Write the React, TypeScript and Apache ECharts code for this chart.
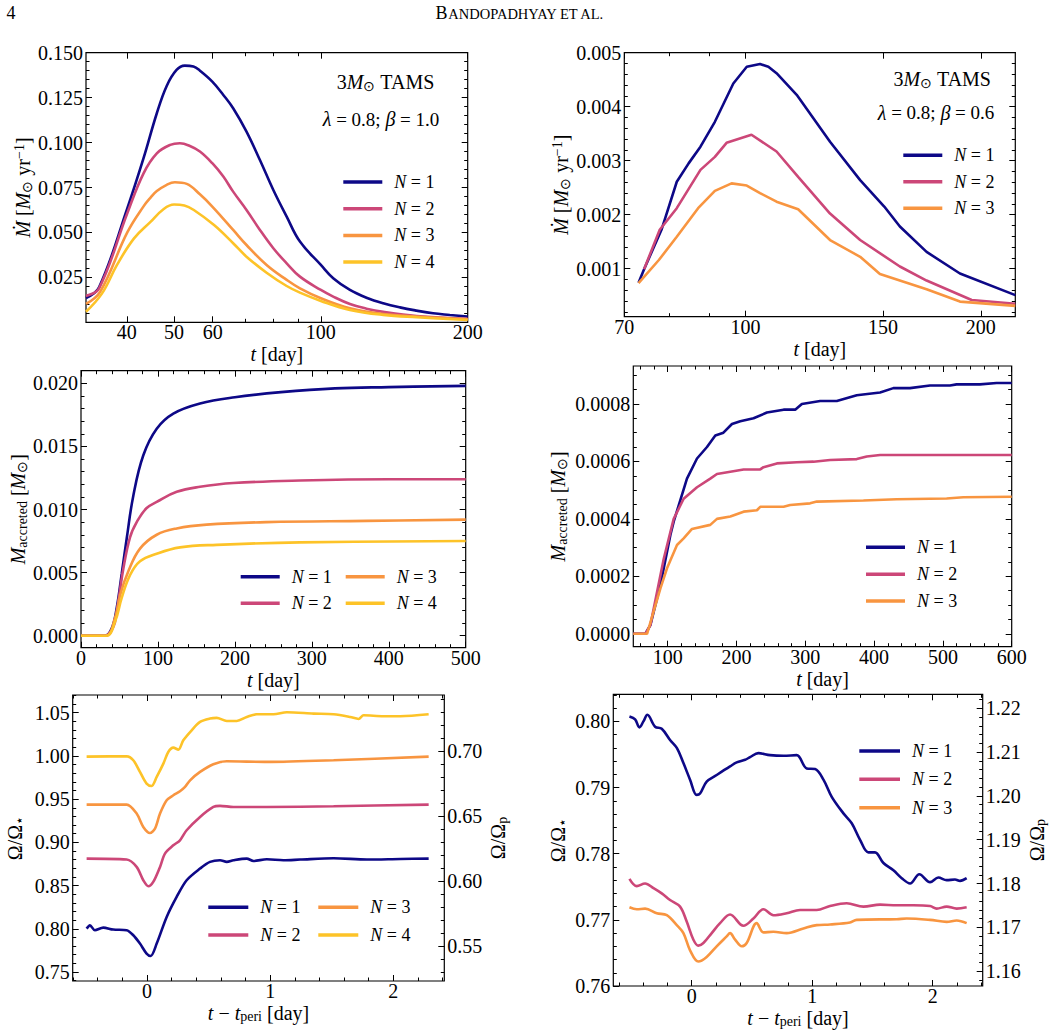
import React, { useEffect, useRef } from 'react';
import * as echarts from 'echarts';

const FONT = 'Liberation Serif';
const NAMES = ['N=1', 'N=2', 'N=3', 'N=4'];
const COLORS = ['#0d0887', '#cc4778', '#f89540', '#fdc328'];

// ---------- Panel A (top-left): Mdot vs t, log t ----------
const A_X_LABELS = [40, 50, 60, 100, 200];
const A_X_MINOR = [70, 80, 90];
const A_Y_LABELS = [0.025, 0.05, 0.075, 0.1, 0.125, 0.15];
const A_T1 = [33, 35.1, 40.1, 43.3, 46.1, 48.3, 50.6, 52.6, 54.8, 56.5, 59.9, 63.1, 66.1, 70.4, 75.0, 79.9, 85.1, 90.6, 100, 106, 114.7, 124, 134.2, 145.2, 157.1, 169.9, 183.8, 200];
const A_V1 = [0.0135, 0.0195, 0.0634, 0.0913, 0.1163, 0.1315, 0.1404, 0.1428, 0.1423, 0.140, 0.1339, 0.1265, 0.1191, 0.1061, 0.0903, 0.0736, 0.0588, 0.0449, 0.0319, 0.0245, 0.018, 0.0137, 0.0106, 0.0083, 0.0065, 0.005, 0.0041, 0.0032];
const A_T2 = [33, 35.1, 40.1, 43.3, 46.1, 49.1, 51.4, 53.9, 56.5, 59.9, 63.1, 66.1, 70.4, 75.0, 79.9, 85.1, 90.6, 100, 106, 114.7, 124, 134.2, 157.1, 200];
const A_V2 = [0.0147, 0.0189, 0.0607, 0.0829, 0.094, 0.0987, 0.0996, 0.0981, 0.095, 0.0885, 0.0811, 0.0727, 0.0625, 0.0514, 0.0412, 0.0328, 0.0254, 0.018, 0.0143, 0.0102, 0.0076, 0.0058, 0.0035, 0.0019];
const A_T3 = [33, 35.3, 40.1, 43.3, 44.8, 46.1, 48.3, 50.2, 53.1, 56.5, 59.9, 66.1, 70.4, 77.4, 85.1, 90.6, 100, 114.7, 134.2, 157.1, 200];
const A_V3 = [0.0102, 0.0171, 0.05, 0.0645, 0.0695, 0.073, 0.0765, 0.0779, 0.077, 0.0712, 0.0644, 0.0514, 0.043, 0.0319, 0.0236, 0.0189, 0.0134, 0.0078, 0.0046, 0.0032, 0.0017];
const A_T4 = [33, 35.6, 38.2, 41.4, 44.8, 47.5, 50.0, 52.5, 54.9, 60.4, 66.1, 70.4, 77.4, 85.1, 90.6, 100, 114.7, 134.2, 157.1, 200];
const A_V4 = [0.0059, 0.0161, 0.0319, 0.0467, 0.056, 0.0628, 0.0655, 0.065, 0.0625, 0.0541, 0.044, 0.0365, 0.0276, 0.0202, 0.0165, 0.0119, 0.0069, 0.0041, 0.0028, 0.0013];

// ---------- Panel B (top-right) ----------
const B_X_LABELS = [70, 100, 150, 200];
const B_X_MINOR = [80, 90];
const B_Y_LABELS = [0.001, 0.002, 0.003, 0.004, 0.005];
const B_T1 = [73.0, 74.2, 78.1, 81.7, 84.6, 87.6, 91.4, 96.5, 100.4, 104.4, 107.0, 109.6, 116.3, 128.3, 140.2, 150.5, 157.6, 170.5, 188.1, 221.4];
const B_V1 = [0.00074, 0.00099, 0.00172, 0.00261, 0.00295, 0.00326, 0.00372, 0.00443, 0.00474, 0.00479, 0.00474, 0.00462, 0.00422, 0.00335, 0.00264, 0.00215, 0.00178, 0.00131, 0.00091, 0.00051];
const B_T2 = [74.2, 77.7, 81.7, 87.6, 91.4, 94.6, 101.8, 109.6, 116.8, 128.3, 140.2, 157.6, 170.5, 194.7, 221.4];
const B_V2 = [0.00099, 0.00172, 0.00212, 0.00283, 0.00307, 0.00333, 0.00348, 0.00317, 0.0027, 0.00202, 0.00153, 0.00104, 0.00078, 0.00042, 0.00035];
const B_T3 = [73.0, 77.5, 81.7, 87.0, 91.4, 96.0, 100.4, 104.4, 109.6, 116.8, 128.3, 140.2, 148.6, 170.5, 188.1, 221.4];
const B_V3 = [0.00073, 0.00116, 0.00159, 0.00212, 0.00244, 0.00258, 0.00254, 0.0024, 0.00224, 0.0021, 0.00153, 0.00122, 0.0009, 0.00062, 0.00039, 0.00031];

// ---------- Panel C (middle-left) ----------
const C_X_LABELS = [0, 100, 200, 300, 400, 500];
const C_Y_LABELS = [0, 0.005, 0.01, 0.015, 0.02];
const C_T1 = [0, 31, 40, 46.4, 52.9, 59.4, 68, 81, 98.4, 120, 154.7, 200, 260, 330, 400, 500];
const C_V1 = [0, 0, 0.0006, 0.0022, 0.0049, 0.0077, 0.0111, 0.0143, 0.0164, 0.0176, 0.0184, 0.0189, 0.0193, 0.0196, 0.0197, 0.0198];
const C_T2 = [0, 31, 42, 46.4, 55, 63.7, 72.4, 85, 98.4, 124.4, 154.7, 198, 284.7, 400, 500];
const C_V2 = [0, 0, 0.0007, 0.0019, 0.0053, 0.0078, 0.009, 0.0101, 0.0106, 0.0114, 0.0118, 0.0121, 0.0123, 0.0124, 0.0124];
const C_T3 = [0, 32, 44.2, 50.7, 61.5, 76.7, 98.4, 124.4, 163.3, 241.3, 371.3, 500];
const C_V3 = [0, 0, 0.0014, 0.0032, 0.0051, 0.0069, 0.008, 0.0085, 0.0088, 0.009, 0.0091, 0.0092];
const C_T4 = [0, 33, 44.2, 52.9, 63.7, 76.7, 98.4, 128.7, 176.3, 284.7, 500];
const C_V4 = [0, 0, 0.0011, 0.003, 0.0048, 0.0059, 0.0065, 0.007, 0.0072, 0.0074, 0.0075];

// ---------- Panel D (middle-right) ----------
const D_X_LABELS = [100, 200, 300, 400, 500, 600];
const D_Y_LABELS = [0, 0.0002, 0.0004, 0.0006, 0.0008];
const D_T1 = [50, 67.6, 74.8, 89.4, 103.9, 108.7, 128, 142.6, 157.1, 169.2, 181, 193.4, 205.5, 224.8, 244.2, 268.4, 285.3, 295, 321.6, 345.8, 374.8, 408.7, 428, 452.2, 481.2, 510.3, 519.9, 553.8, 578, 600];
const D_V1 = [0, 0, 0.00003, 0.00017, 0.000344, 0.00039, 0.00054, 0.00061, 0.00065, 0.00069, 0.0007, 0.00073, 0.00074, 0.00075, 0.00077, 0.00078, 0.00078, 0.0008, 0.00081, 0.00081, 0.00083, 0.00084, 0.000855, 0.000855, 0.000864, 0.000864, 0.000868, 0.000868, 0.000873, 0.000873];
const D_T2 = [50, 67.6, 74.8, 94.2, 108.7, 123.2, 142.6, 161.9, 171.6, 191, 210.3, 234.5, 239.3, 258.7, 287.7, 311.9, 336.1, 374.8, 389.3, 408.7, 600];
const D_V2 = [0, 0, 0.00003, 0.00026, 0.0004, 0.00047, 0.00051, 0.00054, 0.000556, 0.000564, 0.000572, 0.000572, 0.00058, 0.000593, 0.000597, 0.000599, 0.000605, 0.000608, 0.000617, 0.000622, 0.000622];
const D_T3 = [50, 70, 89.4, 99, 113.5, 123.2, 135.3, 161.9, 171.6, 191, 210.3, 229.7, 234.5, 268.4, 278, 307, 316.7, 384.5, 432.8, 505.4, 529.6, 600];
const D_V3 = [0, 0, 0.000158, 0.000228, 0.000309, 0.000332, 0.000365, 0.000379, 0.0004, 0.000408, 0.000425, 0.00043, 0.000442, 0.000442, 0.000448, 0.000454, 0.00046, 0.000464, 0.000468, 0.000471, 0.000475, 0.000477];

// ---------- Panel E (bottom-left) ----------
const E_X_LABELS = [0, 1, 2];
const E_Y_LABELS = [0.75, 0.8, 0.85, 0.9, 0.95, 1.0, 1.05];
const E_Y2_LABELS = [0.55, 0.6, 0.65, 0.7];
const E_T1 = [-0.49, -0.463, -0.423, -0.355, -0.274, -0.165, -0.111, -0.057, -0.003, 0.03, 0.079, 0.16, 0.241, 0.322, 0.431, 0.512, 0.593, 0.648, 0.702, 0.81, 0.864, 0.973, 1.108, 1.244, 1.515, 1.786, 2.057, 2.287];
const E_V1 = [0.8002, 0.804, 0.7983, 0.8014, 0.7991, 0.7983, 0.7925, 0.7829, 0.7713, 0.7686, 0.7829, 0.8137, 0.8369, 0.8562, 0.8697, 0.8774, 0.8793, 0.8774, 0.8793, 0.8812, 0.8785, 0.8804, 0.8793, 0.8801, 0.8816, 0.8801, 0.8808, 0.8812];
const E_T2 = [-0.49, -0.165, -0.084, -0.03, 0.011, 0.051, 0.106, 0.146, 0.214, 0.268, 0.322, 0.431, 0.539, 0.593, 0.702, 0.973, 1.515, 2.287];
const E_V2 = [0.8812, 0.8801, 0.8716, 0.8562, 0.8492, 0.8542, 0.8716, 0.887, 0.8966, 0.9024, 0.914, 0.9294, 0.941, 0.9422, 0.941, 0.941, 0.9418, 0.9437];
const E_T3 = [-0.49, -0.165, -0.084, -0.03, 0.024, 0.065, 0.106, 0.16, 0.214, 0.268, 0.309, 0.35, 0.431, 0.539, 0.648, 0.973, 1.515, 2.287];
const E_V3 = [0.9437, 0.9437, 0.9333, 0.9179, 0.9109, 0.9159, 0.9333, 0.9487, 0.9545, 0.9591, 0.9641, 0.9718, 0.9815, 0.9904, 0.9938, 0.9931, 0.995, 0.9992];
const E_T4 = [-0.49, -0.165, -0.111, -0.057, -0.003, 0.038, 0.079, 0.133, 0.173, 0.214, 0.255, 0.295, 0.363, 0.431, 0.512, 0.566, 0.648, 0.729, 0.81, 0.892, 1.027, 1.136, 1.352, 1.515, 1.65, 1.718, 1.759, 1.921, 2.057, 2.287];
const E_V4 = [0.9992, 0.9996, 0.995, 0.9815, 0.968, 0.9653, 0.9757, 0.9911, 1.0046, 1.0096, 1.0073, 1.0181, 1.0297, 1.0393, 1.0432, 1.044, 1.0405, 1.0405, 1.0451, 1.0482, 1.0482, 1.0505, 1.049, 1.0482, 1.0451, 1.0428, 1.047, 1.0459, 1.0459, 1.0482];

// ---------- Panel F (bottom-right) ----------
const F_X_LABELS = [0, 1, 2];
const F_Y_LABELS = [0.76, 0.77, 0.78, 0.79, 0.8];
const F_Y2_LABELS = [1.16, 1.17, 1.18, 1.19, 1.2, 1.21, 1.22];
const F_T1 = [-0.517, -0.47, -0.434, -0.401, -0.368, -0.304, -0.249, -0.18, -0.124, -0.069, -0.014, 0.041, 0.069, 0.124, 0.207, 0.318, 0.373, 0.443, 0.484, 0.553, 0.65, 0.761, 0.871, 0.954, 1.024, 1.093, 1.162, 1.259, 1.328, 1.397, 1.466, 1.521, 1.591, 1.674, 1.743, 1.812, 1.889, 1.978, 2.047, 2.116, 2.185, 2.227, 2.282];
const F_V1 = [0.80075, 0.8003, 0.7991, 0.8, 0.801, 0.7992, 0.7989, 0.7972, 0.796, 0.7937, 0.7912, 0.7889, 0.7891, 0.7909, 0.7919, 0.7932, 0.7938, 0.7942, 0.7946, 0.7952, 0.7949, 0.7948, 0.7949, 0.7929, 0.7928, 0.7912, 0.7886, 0.7861, 0.7846, 0.7821, 0.7802, 0.7802, 0.7786, 0.7775, 0.7763, 0.7755, 0.7769, 0.7757, 0.7764, 0.776, 0.7761, 0.7759, 0.7763];
const F_T2 = [-0.517, -0.456, -0.387, -0.318, -0.249, -0.18, -0.097, -0.041, 0.014, 0.055, 0.097, 0.166, 0.235, 0.318, 0.429, 0.512, 0.595, 0.678, 0.788, 0.899, 1.037, 1.148, 1.286, 1.425, 1.563, 1.701, 1.839, 1.978, 2.033, 2.116, 2.199, 2.282];
const F_V2 = [0.7762, 0.7751, 0.7755, 0.7748, 0.774, 0.773, 0.772, 0.7697, 0.767, 0.7661, 0.7665, 0.768, 0.7695, 0.7708, 0.7691, 0.7702, 0.7716, 0.7707, 0.771, 0.7715, 0.7715, 0.7721, 0.7725, 0.772, 0.7723, 0.7722, 0.7722, 0.7721, 0.7717, 0.772, 0.7717, 0.7719];
const F_T3 = [-0.517, -0.456, -0.387, -0.29, -0.207, -0.124, -0.069, -0.014, 0.055, 0.124, 0.207, 0.29, 0.318, 0.36, 0.415, 0.456, 0.539, 0.595, 0.678, 0.788, 0.927, 1.037, 1.148, 1.314, 1.369, 1.701, 1.784, 1.978, 2.116, 2.199, 2.282];
const F_V3 = [0.7719, 0.7716, 0.7717, 0.771, 0.7707, 0.7692, 0.768, 0.7654, 0.7637, 0.7644, 0.766, 0.7675, 0.768, 0.767, 0.766, 0.7665, 0.7695, 0.7681, 0.7682, 0.768, 0.7687, 0.7692, 0.7693, 0.7696, 0.77, 0.7701, 0.7702, 0.77, 0.7697, 0.7699, 0.7695];

// ---------- helpers ----------
function steps(a: number, b: number, s: number): number[] {
  const out: number[] = [];
  const n = Math.round((b - a) / s);
  for (let k = 0; k <= n; k++) out.push(Number((a + k * s).toFixed(8)));
  return out;
}
const lg = (arr: number[]) => arr.map((v) => Math.log10(v));

const FS = 20;
const RICH: any = {
  i: { fontFamily: FONT, fontSize: FS, fontStyle: 'italic', color: '#000', lineHeight: 22 },
  r: { fontFamily: FONT, fontSize: FS, color: '#000', lineHeight: 22 },
  sub: { fontFamily: FONT, fontSize: 14, color: '#000', lineHeight: 10, verticalAlign: 'bottom' },
  sup: { fontFamily: FONT, fontSize: 14, color: '#000', lineHeight: 10, verticalAlign: 'top' },
};
const GRICH: any = {
  i: { fontFamily: FONT, fontSize: FS, fontStyle: 'italic', fill: '#000', lineHeight: 22 },
  sub: { fontFamily: FONT, fontSize: 14, fill: '#000', lineHeight: 10, verticalAlign: 'bottom' },
};

type AxSpec = {
  min: number; max: number; labels: number[]; major: number[]; minor: number[];
  fmt: (v: number) => string; name: string; gap: number;
};

function buildOption() {
  const xAxis: any[] = [];
  const yAxis: any[] = [];
  const series: any[] = [];

  const common = (gi: number, position: string, min: number, max: number) => ({
    type: 'value', gridIndex: gi, position, min, max, silent: true,
    splitLine: { show: false }, axisLine: { show: false, onZero: false }, axisPointer: { show: false },
  });
  const ticksOnly = (gi: number, position: string, min: number, max: number, vals: number[], len: number) => ({
    ...common(gi, position, min, max),
    axisLabel: { show: false },
    axisTick: { show: true, inside: true, length: len, customValues: vals, lineStyle: { color: '#000', width: 1 } },
  });
  const labeled = (gi: number, position: string, s: AxSpec, vertical: boolean) => ({
    ...common(gi, position, s.min, s.max),
    axisTick: { show: true, inside: true, length: 6, customValues: s.major, lineStyle: { color: '#000', width: 1 } },
    axisLabel: {
      show: true, customValues: s.labels, formatter: (v: number) => s.fmt(v), margin: vertical ? 3 : 1,
      fontFamily: FONT, fontSize: FS, color: '#000', lineHeight: 18,
    },
    name: s.name, nameLocation: 'middle', nameGap: s.gap, nameRotate: vertical ? 90 : 0,
    nameTextStyle: { fontFamily: FONT, fontSize: FS, color: '#000', lineHeight: 22, rich: RICH },
  });
  const addPanel = (gi: number, xs: AxSpec, ys: AxSpec, y2?: AxSpec) => {
    const xi = xAxis.length;
    xAxis.push(
      labeled(gi, 'bottom', xs, false),
      ticksOnly(gi, 'bottom', xs.min, xs.max, xs.minor, 3.5),
      ticksOnly(gi, 'top', xs.min, xs.max, xs.major, 6),
      ticksOnly(gi, 'top', xs.min, xs.max, xs.minor, 3.5),
    );
    const yi = yAxis.length;
    yAxis.push(labeled(gi, 'left', ys, true), ticksOnly(gi, 'left', ys.min, ys.max, ys.minor, 3.5));
    if (y2) {
      yAxis.push(labeled(gi, 'right', y2, true), ticksOnly(gi, 'right', y2.min, y2.max, y2.minor, 3.5));
    } else {
      yAxis.push(ticksOnly(gi, 'right', ys.min, ys.max, ys.major, 6), ticksOnly(gi, 'right', ys.min, ys.max, ys.minor, 3.5));
    }
    return { xi, yi };
  };
  const addLine = (k: number, ax: { xi: number; yi: number }, ts: number[], vs: number[], log: boolean, smooth: number | boolean) => {
    series.push({
      type: 'line', name: NAMES[k], xAxisIndex: ax.xi, yAxisIndex: ax.yi,
      data: ts.map((t, j) => [log ? Math.log10(t) : t, vs[j]]),
      showSymbol: false, symbol: 'none', smooth,
      color: COLORS[k], itemStyle: { color: COLORS[k] },
      lineStyle: { color: COLORS[k], width: 2.6 }, silent: true, emphasis: { disabled: true },
    });
  };

  const intFmt = (v: number) => String(Math.round(v));
  const logFmt = (v: number) => String(Math.round(Math.pow(10, v)));
  const T_NAME = '{i|t} [day]';
  const MDOT_NAME = '{i|Ṁ} [{i|M}{sub|⊙} yr{sup|−1}]';
  const MACC_NAME = '{i|M}{sub|accreted} [{i|M}{sub|⊙}]';
  const TP_NAME = '{i|t} − {i|t}{sub|peri} [day]';

  // Panel A
  const axA = addPanel(0,
    { min: Math.log10(33), max: Math.log10(200), labels: lg(A_X_LABELS), major: lg(A_X_LABELS), minor: lg(A_X_MINOR), fmt: logFmt, name: T_NAME, gap: 14.5 },
    { min: 0, max: 0.15, labels: A_Y_LABELS, major: A_Y_LABELS, minor: steps(0, 0.15, 0.005), fmt: (v) => v.toFixed(3), name: MDOT_NAME, gap: 50 });
  [[A_T1, A_V1], [A_T2, A_V2], [A_T3, A_V3], [A_T4, A_V4]].forEach((d, k) => addLine(k, axA, d[0], d[1], true, 0.4));

  // Panel B
  const axB = addPanel(1,
    { min: Math.log10(70), max: Math.log10(221.4), labels: lg(B_X_LABELS), major: lg(B_X_LABELS), minor: lg(B_X_MINOR), fmt: logFmt, name: T_NAME, gap: 17 },
    { min: 0.00011, max: 0.005, labels: B_Y_LABELS, major: B_Y_LABELS, minor: steps(0.0002, 0.005, 0.0002), fmt: (v) => v.toFixed(3), name: MDOT_NAME, gap: 51.6 });
  [[B_T1, B_V1], [B_T2, B_V2], [B_T3, B_V3]].forEach((d, k) => addLine(k, axB, d[0], d[1], true, false));

  // Panel C
  const axC = addPanel(2,
    { min: 0, max: 500, labels: C_X_LABELS, major: C_X_LABELS, minor: steps(0, 500, 20), fmt: intFmt, name: T_NAME, gap: 16 },
    { min: -0.00095, max: 0.021, labels: C_Y_LABELS, major: C_Y_LABELS, minor: steps(0, 0.021, 0.001), fmt: (v) => v.toFixed(3), name: MACC_NAME, gap: 51.7 });
  [[C_T1, C_V1], [C_T2, C_V2], [C_T3, C_V3], [C_T4, C_V4]].forEach((d, k) => addLine(k, axC, d[0], d[1], false, 0.4));

  // Panel D
  const axD = addPanel(3,
    { min: 50, max: 600, labels: D_X_LABELS, major: D_X_LABELS, minor: steps(60, 600, 20), fmt: intFmt, name: T_NAME, gap: 17 },
    { min: -0.000045, max: 0.000932, labels: D_Y_LABELS, major: D_Y_LABELS, minor: steps(0, 0.0009, 0.00005), fmt: (v) => v.toFixed(4), name: MACC_NAME, gap: 64 });
  [[D_T1, D_V1], [D_T2, D_V2], [D_T3, D_V3]].forEach((d, k) => addLine(k, axD, d[0], d[1], false, false));

  // Panel E
  const axE = addPanel(4,
    { min: -0.603, max: 2.414, labels: E_X_LABELS, major: E_X_LABELS, minor: steps(-0.6, 2.4, 0.2), fmt: intFmt, name: TP_NAME, gap: 18 },
    { min: 0.7396, max: 1.0705, labels: E_Y_LABELS, major: E_Y_LABELS, minor: steps(0.74, 1.07, 0.01), fmt: (v) => v.toFixed(2), name: 'Ω/Ω{sub|⋆}', gap: 46.7 },
    { min: 0.5231, max: 0.7431, labels: E_Y2_LABELS, major: E_Y2_LABELS, minor: steps(0.53, 0.74, 0.01), fmt: (v) => v.toFixed(2), name: 'Ω/Ω{sub|p}', gap: 43 });
  [[E_T1, E_V1], [E_T2, E_V2], [E_T3, E_V3], [E_T4, E_V4]].forEach((d, k) => addLine(k, axE, d[0], d[1], false, 0.3));

  // Panel F
  const axF = addPanel(5,
    { min: -0.651, max: 2.415, labels: F_X_LABELS, major: F_X_LABELS, minor: steps(-0.6, 2.4, 0.2), fmt: intFmt, name: TP_NAME, gap: 19.5 },
    { min: 0.76, max: 0.8041, labels: F_Y_LABELS, major: F_Y_LABELS, minor: steps(0.76, 0.804, 0.002), fmt: (v) => v.toFixed(2), name: 'Ω/Ω{sub|⋆}', gap: 44 },
    { min: 1.1566, max: 1.2232, labels: F_Y2_LABELS, major: F_Y2_LABELS, minor: steps(1.158, 1.222, 0.002), fmt: (v) => v.toFixed(2), name: 'Ω/Ω{sub|p}', gap: 43 });
  [[F_T1, F_V1], [F_T2, F_V2], [F_T3, F_V3]].forEach((d, k) => addLine(k, axF, d[0], d[1], false, 0.35));

  const gridBox = (left: number, top: number, width: number, height: number) => ({
    show: true, left, top, width, height, borderColor: '#000', borderWidth: 1.2,
    backgroundColor: 'transparent', containLabel: false, outerBoundsMode: 'none',
  });

  const legend = (names: string[], left: number, top: number, gap: number, w = 39) => ({
    show: true, orient: 'vertical', left, top, padding: 0, itemGap: gap, itemWidth: w, itemHeight: 3.5,
    icon: 'rect', selectedMode: false, data: names,
    formatter: (n: string) => `{i|N}{r| = ${n.split('=')[1]}}`,
    textStyle: {
      fontFamily: FONT, fontSize: 18, color: '#000', lineHeight: 20,
      rich: {
        i: { fontFamily: FONT, fontSize: 18, fontStyle: 'italic', color: '#000', lineHeight: 20, padding: [0, 0, 0, 7] },
        r: { fontFamily: FONT, fontSize: 18, color: '#000', lineHeight: 20 },
      },
    },
  });

  const gtext = (x: number, y: number, text: string, align: string, rich?: any, fontSize = FS) => ({
    type: 'text', x, y, silent: true,
    style: {
      text, fill: '#000', fontFamily: FONT, fontSize,
      align, verticalAlign: 'middle', textAlign: align, textVerticalAlign: 'middle', rich,
    },
  });

  return {
    animation: false,
    backgroundColor: '#fff',
    textStyle: { fontFamily: FONT },
    grid: [
      gridBox(86, 52.7, 381.7, 269.6),
      gridBox(624.3, 52.7, 391, 264),
      gridBox(81, 370.7, 384.7, 277),
      gridBox(633.3, 366, 378.4, 280.7),
      gridBox(72.7, 695, 371.6, 286),
      gridBox(613.3, 694.3, 369.4, 291.7),
    ],
    xAxis,
    yAxis,
    series,
    legend: [
      legend(NAMES, 343.3, 172, 6.7),
      legend(NAMES.slice(0, 3), 903.3, 145.3, 6.5),
      legend(NAMES.slice(0, 2), 240.7, 566.7, 6.6),
      legend(NAMES.slice(2, 4), 345.7, 566.7, 6.6),
      legend(NAMES.slice(0, 3), 866, 537.3, 6.85),
      legend(NAMES.slice(0, 2), 208.3, 897.3, 7.7, 40),
      legend(NAMES.slice(2, 4), 318.3, 897.3, 7.7, 40),
      legend(NAMES.slice(0, 3), 859.3, 741, 8.35, 40.7),
    ],
    graphic: [
      gtext(11, 13, '4', 'center', undefined, 18),
      gtext(519.7, 13, '{b|B}{s|ANDOPADHYAY ET AL.}', 'center', {
        b: { fontFamily: FONT, fontSize: 18, fill: '#000', lineHeight: 17, verticalAlign: 'bottom' },
        s: { fontFamily: FONT, fontSize: 14.5, fill: '#000', lineHeight: 14, verticalAlign: 'bottom' },
      }),
      gtext(434.3, 82.3, '3{i|M}{sub|⊙} TAMS', 'right', GRICH),
      gtext(439.3, 119, '{i|λ} = 0.8; {i|β} = 1.0', 'right', GRICH, 19),
      gtext(991, 79, '3{i|M}{sub|⊙} TAMS', 'right', GRICH),
      gtext(994.3, 112.7, '{i|λ} = 0.8; {i|β} = 0.6', 'right', GRICH, 19),
    ],
  };
}

export default function App() {
  const ref = useRef<HTMLDivElement>(null);
  useEffect(() => {
    if (!ref.current) return;
    const chart = echarts.init(ref.current, null, { renderer: 'svg' });
    chart.setOption(buildOption() as any);
    return () => chart.dispose();
  }, []);
  return (
    <div
      ref={ref}
      style={{ position: 'absolute', left: 0, top: 0, width: 1060, height: 1034, background: '#fff' }}
    />
  );
}
